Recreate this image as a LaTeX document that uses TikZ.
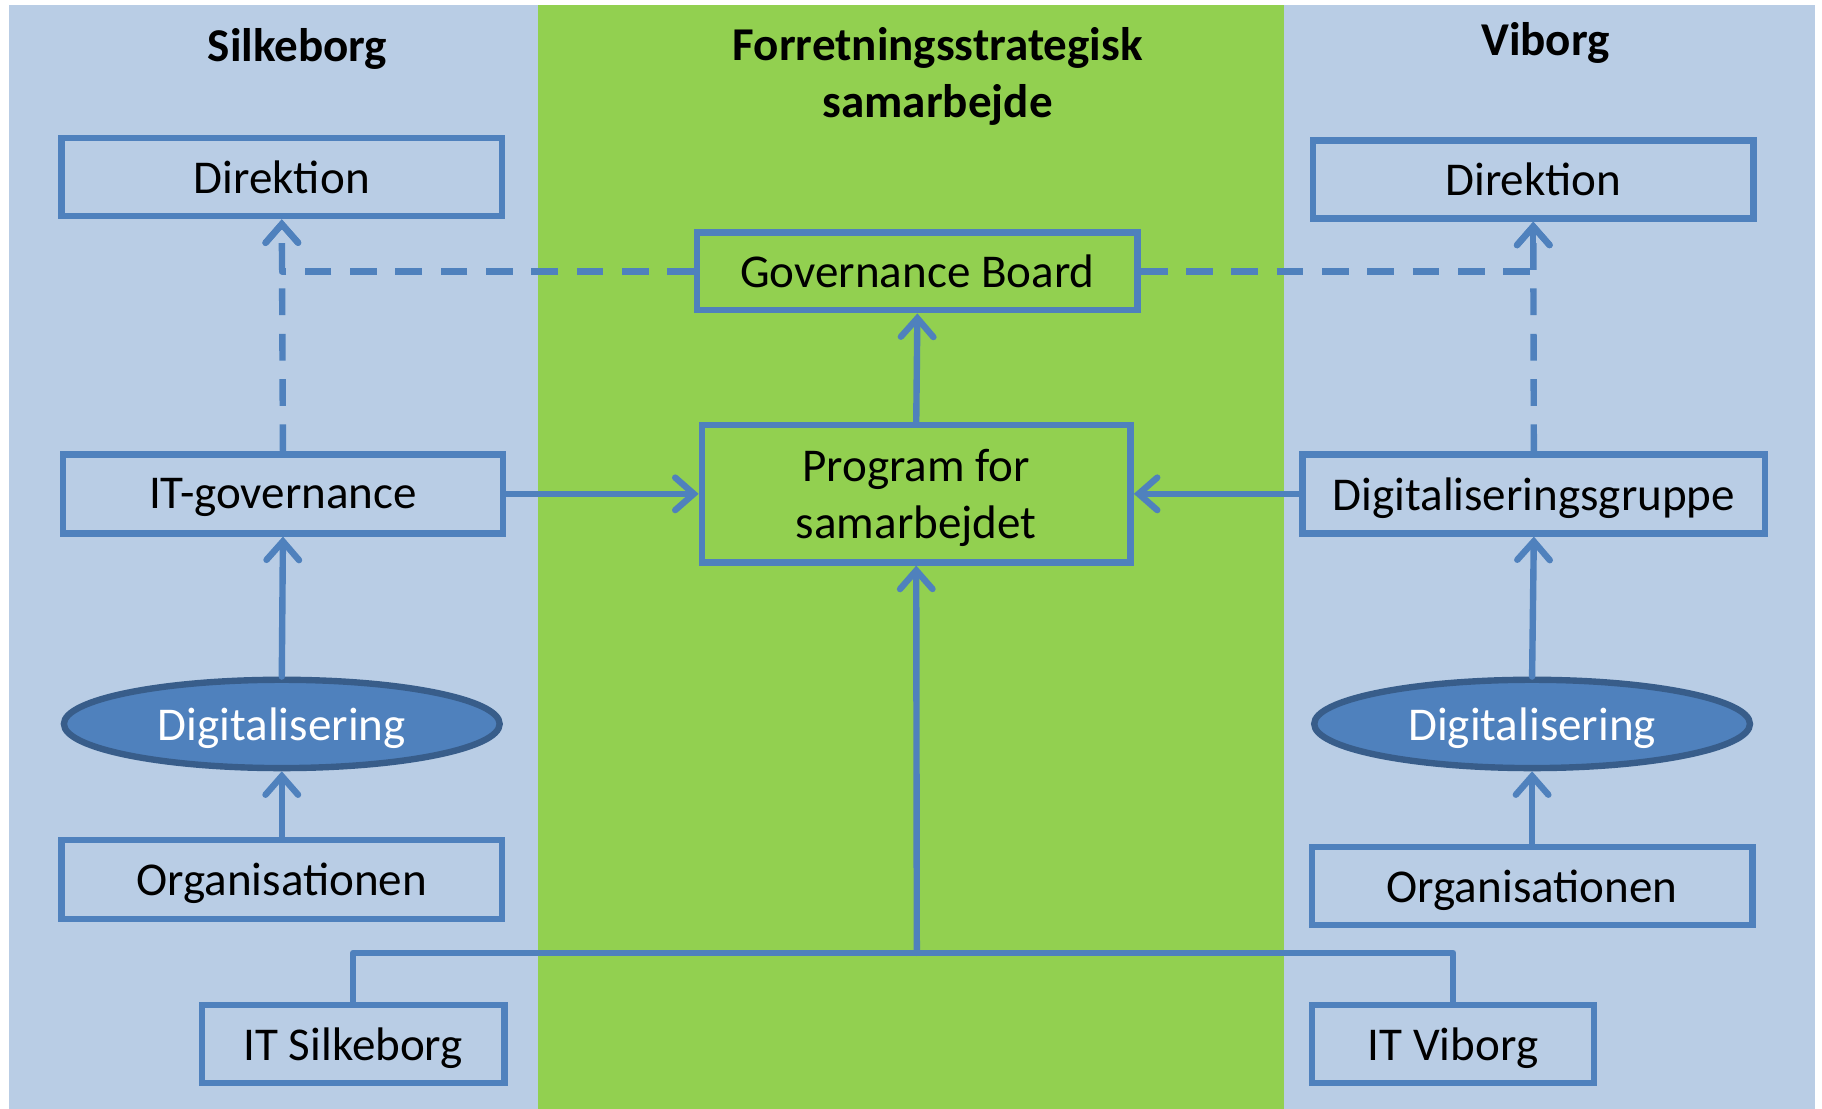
\documentclass[tikz,border=0pt]{standalone}
\usepackage{fontspec}
\setmainfont{Carlito}
\usetikzlibrary{arrows.meta,shapes.geometric}
\definecolor{paleblue}{HTML}{B9CDE5}
\definecolor{midgreen}{HTML}{92D050}
\definecolor{lineblue}{HTML}{4F81BD}
\definecolor{darkblue}{HTML}{385D8A}
\tikzset{
  box/.style={draw=lineblue, line width=5.5pt, minimum height=67pt, inner sep=0pt, text depth=0pt, font=\fontsize{40.5}{49}\selectfont},
  oval/.style={ellipse, draw=darkblue, fill=lineblue, line width=5.5pt, minimum width=375pt, minimum height=76pt, inner sep=0pt, text depth=0pt, text=white, font=\fontsize{40.5}{49}\selectfont},
  title/.style={font=\fontsize{40.5}{49}\selectfont\bfseries, align=center},
  conn/.style={draw=lineblue, line width=5.5pt, line cap=round, line join=round},
  arr/.style={conn, -{Straight Barb[length=16pt,width=28pt,line cap=round]}},
  dsh/.style={dash pattern=on 23pt off 16pt, line cap=butt},
}
\begin{document}
\begin{tikzpicture}[x=1pt,y=-1pt]
\useasboundingbox (0,0) rectangle (1568,954);
\fill[white] (0,0) rectangle (1568,954);
\fill[paleblue] (8,4) rectangle (463,954);
\fill[midgreen] (463,4) rectangle (1105,954);
\fill[paleblue] (1105,4) rectangle (1562,954);

\node[title] (tsilk) at (256,42) {Silkeborg};
\node[title] (tmid) at (807,65.5) {Forretningsstrategisk\\samarbejde};
\node[title] (tvib) at (1330,37) {Viborg};

\node[box, minimum width=379pt] (ldir) at (242.5,152.5) {Direktion};
\node[box, minimum width=379pt, minimum height=68pt] (lit) at (243.5,425) {IT-governance};
\node[oval] (ldig) at (242.5,623) {Digitalisering};
\node[box, minimum width=379pt, minimum height=68pt] (lorg) at (242.5,757) {Organisationen};
\node[box, minimum width=260pt] (itsilk) at (304,898.5) {IT Silkeborg};

\node[box, minimum width=379pt] (gb) at (789.5,233.5) {Governance Board};
\node[box, minimum width=369pt, minimum height=118pt, align=center] (prog) at (788.5,425) {Program for\\samarbejdet};

\node[box, minimum width=379pt] (rdir) at (1319.5,154.5) {Direktion};
\node[box, minimum width=398pt, minimum height=68pt] (dgr) at (1320,425) {Digitaliseringsgruppe};
\node[oval] (rdig) at (1318.5,623) {Digitalisering};
\node[box, minimum width=379pt] (rorg) at (1318.5,762.5) {Organisationen};
\node[box, minimum width=243pt] (itvib) at (1250.5,898.5) {IT Viborg};

\coordinate (join) at (789,820);

% dashed links
\draw[arr,dsh] (lit.north) -- (ldir.south);
\draw[arr,dsh] (gb.west) -| (ldir.south);
\draw[arr,dsh] (dgr.north) -- (rdir.south);
\draw[arr,dsh] (gb.east) -| (rdir.south);

% solid links
\draw[arr] (prog.north) -- (gb.south);
\draw[arr] (lit.east) -- (prog.west);
\draw[arr] (dgr.west) -- (prog.east);
\draw[arr] (ldig.north) -- (lit.south);
\draw[arr] (lorg.north) -- (ldig.south);
\draw[arr] (rdig.north) -- (dgr.south);
\draw[arr] (rorg.north) -- (rdig.south);
\draw[conn] (itsilk.north) |- (join);
\draw[conn] (itvib.north) |- (join);
\draw[arr] (join) -- (prog.south);
\end{tikzpicture}
\end{document}
